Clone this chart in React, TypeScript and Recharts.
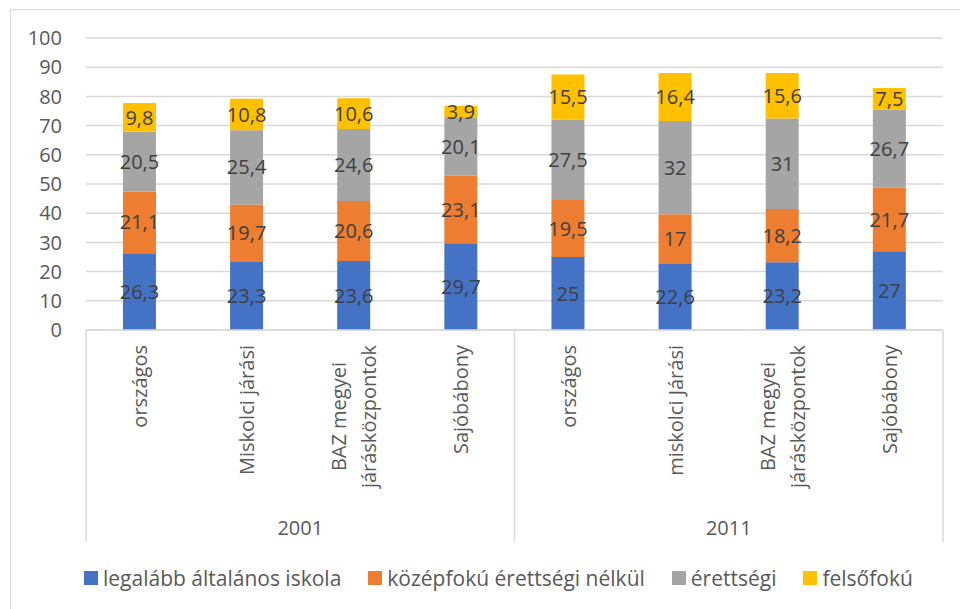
import { BarChart, Bar, XAxis, YAxis, CartesianGrid, Legend, LabelList } from "recharts";

const categories = [
  "országos",
  "Miskolci járási",
  "BAZ megyei\njárásközpontok",
  "Sajóbábony",
  "országos",
  "miskolci Járási",
  "BAZ megyei\njárásközpontok",
  "Sajóbábony",
];
const years = ["2001", "2001", "2001", "2001", "2011", "2011", "2011", "2011"];
const yTicks = [0, 10, 20, 30, 40, 50, 60, 70, 80, 90, 100];

const alapfok = [26.3, 23.3, 23.6, 29.7, 25, 22.6, 23.2, 27];
const kozepfok = [21.1, 19.7, 20.6, 23.1, 19.5, 17, 18.2, 21.7];
const erettsegi = [20.5, 25.4, 24.6, 20.1, 27.5, 32, 31, 26.7];
const felsofok = [9.8, 10.8, 10.6, 3.9, 15.5, 16.4, 15.6, 7.5];

const series = [
  { key: "alapfok", name: "legalább általános iskola", color: "#4472C4" },
  { key: "kozepfok", name: "középfokú érettségi nélkül", color: "#ED7D31" },
  { key: "erettsegi", name: "érettségi", color: "#A5A5A5" },
  { key: "felsofok", name: "felsőfokú", color: "#FFC000" },
];

const data = categories.map((c, i) => ({
  id: `c${i}`,
  label: c,
  year: years[i],
  alapfok: alapfok[i],
  kozepfok: kozepfok[i],
  erettsegi: erettsegi[i],
  felsofok: felsofok[i],
}));

const FONT = "'Open Sans', sans-serif";
const TEXT = "#595959";
const GRID = "#d9d9d9";
const CAT_H = 170;
const GRP_H = 42;

let ctx: CanvasRenderingContext2D | null = null;
function measure(s: string) {
  if (!ctx) ctx = document.createElement("canvas").getContext("2d");
  if (!ctx) return s.length * 10;
  ctx.font = "20px 'Open Sans'";
  return ctx.measureText(s).width;
}

function CategoryTick(props: any) {
  const { x, y, index } = props;
  const lines = categories[index].split("\n");
  const maxW = Math.max(...lines.map(measure));
  const cy = y + maxW / 2;
  return (
    <g>
      {lines.map((ln, i) => {
        const cx = x + (i - (lines.length - 1) / 2) * 30;
        return (
          <text
            key={i}
            x={cx}
            y={cy}
            textAnchor="middle"
            dominantBaseline="central"
            transform={`rotate(-90, ${cx}, ${cy})`}
            fill={TEXT}
            fontSize={20}
          >
            {ln}
          </text>
        );
      })}
    </g>
  );
}

// second tier: year labels and separators, from the same band scale
function GroupTick(props: any) {
  const { x, y, index, payload } = props;
  const off = payload.offset || 0;
  const yr = years[index];
  const first = index === 0 || years[index - 1] !== yr;
  const last = index === years.length - 1;
  const size = years.filter((v) => v === yr).length;
  const line = (lx: number) => (
    <line x1={lx} x2={lx} y1={y - CAT_H} y2={y + GRP_H} stroke={GRID} strokeWidth={1.5} />
  );
  return (
    <g>
      {first && line(x - off)}
      {last && line(x + off)}
      {first && (
        <text x={x - off + size * off} y={y + 27} textAnchor="middle" dominantBaseline="central" fill={TEXT} fontSize={20}>
          {yr}
        </text>
      )}
    </g>
  );
}

function LegendContent() {
  return (
    <div style={{ display: "flex", height: 30, alignItems: "center", fontFamily: FONT, fontSize: 21, color: TEXT }}>
      {series.map((s) => (
        <div key={s.key} style={{ display: "flex", alignItems: "center", marginRight: 27 }}>
          <span style={{ width: 14, height: 14, background: s.color, marginRight: 5, display: "inline-block" }} />
          <span>{s.name}</span>
        </div>
      ))}
    </div>
  );
}

const fmt = (v: any) => String(v).replace(".", ",");

export default function App() {
  return (
    <div style={{ position: "absolute", left: 0, top: 0, width: 960, height: 609, overflow: "hidden", background: "#fff", fontFamily: FONT }}>
      <div style={{ position: "absolute", left: 10, top: 9, width: 1000, height: 700, border: `1px solid ${GRID}` }} />
      <div style={{ position: "absolute", left: 0, top: 0 }}>
        <BarChart width={960} height={609} data={data} margin={{ top: 38, right: 17, left: 26, bottom: 37 }} barCategoryGap="34.5%">
          <CartesianGrid xAxisId="cat" vertical={false} stroke={GRID} strokeWidth={1.5} />
          <XAxis
            xAxisId="cat"
            dataKey="id"
            height={CAT_H}
            interval={0}
            tickLine={false}
            tickSize={0}
            tickMargin={15}
            axisLine={{ stroke: GRID, strokeWidth: 1.5 }}
            tick={<CategoryTick />}
          />
          <XAxis
            xAxisId="grp"
            dataKey="id"
            interval={0}
            height={GRP_H}
            tickLine={false}
            tickSize={0}
            tickMargin={0}
            axisLine={false}
            tick={<GroupTick />}
          />
          <YAxis
            domain={[0, 100]}
            ticks={yTicks}
            width={60}
            axisLine={false}
            tickLine={false}
            tickSize={0}
            tickMargin={24}
            tick={{ fill: TEXT, fontSize: 20 }}
          />
          <Legend content={<LegendContent />} wrapperStyle={{ top: 563, left: 84, bottom: "auto", width: "auto" }} />
          {series.map((s) => (
            <Bar key={s.key} xAxisId="cat" dataKey={s.key} name={s.name} stackId="a" fill={s.color} isAnimationActive={false}>
              <LabelList dataKey={s.key} position="center" fill="#404040" fontSize={20} formatter={fmt} />
            </Bar>
          ))}
        </BarChart>
      </div>
    </div>
  );
}
